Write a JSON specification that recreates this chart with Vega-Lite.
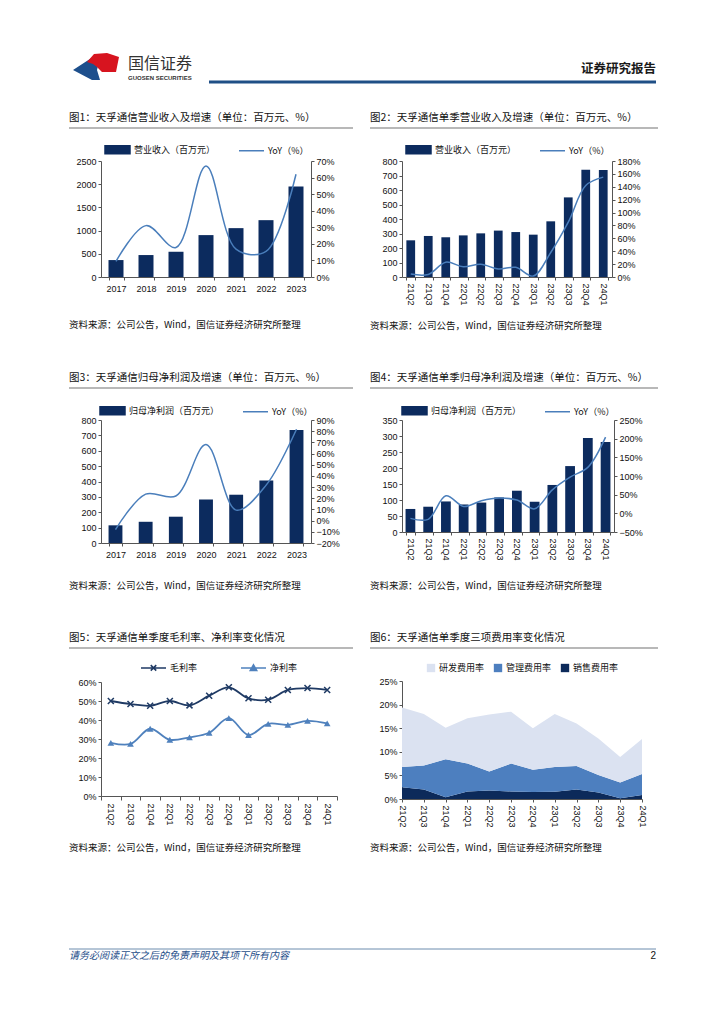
{
"$schema": "https://vega.github.io/schema/vega-lite/v6.json",
"padding": {"left": 68, "top": 52, "right": 0, "bottom": 0},
"background": "white",
"config": {
  "view": {"stroke": null},
  "font": "Noto Sans CJK SC",
  "axis": {"grid": false, "labelFont": "Liberation Sans", "labelFontSize": 9, "labelColor": "#111111", "domainColor": "#555555", "tickColor": "#555555", "tickSize": 3, "labelPadding": 2},
  "title": {"font": "Noto Sans CJK SC", "fontSize": 10.5, "fontWeight": "normal", "color": "#111111", "anchor": "start", "frame": "group", "dx": -32, "offset": 4},
  "legend": {"title": null, "orient": "top", "direction": "horizontal", "labelFont": "Noto Sans CJK SC", "labelFontSize": 9, "labelColor": "#111111", "layout": {"top": {"anchor": "middle", "direction": "horizontal"}}}
},
"datasets": {
  "rev": [{"p":"2017","v":365,"yoy":0.094},{"p":"2018","v":473,"yoy":0.31},{"p":"2019","v":544,"yoy":0.178},{"p":"2020","v":903,"yoy":0.67},{"p":"2021","v":1053,"yoy":0.168},{"p":"2022","v":1225,"yoy":0.154},{"p":"2023","v":1948,"yoy":0.62}],
  "revq": [{"p":"21Q2","v":253,"yoy":0.046},{"p":"21Q3","v":283,"yoy":0.04},{"p":"21Q4","v":274,"yoy":0.23},{"p":"22Q1","v":287,"yoy":0.16},{"p":"22Q2","v":301,"yoy":0.197},{"p":"22Q3","v":320,"yoy":0.124},{"p":"22Q4","v":310,"yoy":0.15},{"p":"23Q1","v":292,"yoy":0.015},{"p":"23Q2","v":384,"yoy":0.38},{"p":"23Q3","v":549,"yoy":0.85},{"p":"23Q4","v":740,"yoy":1.42},{"p":"24Q1","v":738,"yoy":1.55}],
  "np": [{"p":"2017","v":115,"yoy":-0.08},{"p":"2018","v":138,"yoy":0.237},{"p":"2019","v":171,"yoy":0.22},{"p":"2020","v":283,"yoy":0.68},{"p":"2021","v":314,"yoy":0.094},{"p":"2022","v":406,"yoy":0.32},{"p":"2023","v":735,"yoy":0.817}],
  "npq": [{"p":"21Q2","v":72,"yoy":-0.135},{"p":"21Q3","v":79,"yoy":-0.16},{"p":"21Q4","v":95.5,"yoy":0.47},{"p":"22Q1","v":86,"yoy":0.185},{"p":"22Q2","v":92,"yoy":0.337},{"p":"22Q3","v":108,"yoy":0.41},{"p":"22Q4","v":129,"yoy":0.355},{"p":"23Q1","v":94.5,"yoy":0.12},{"p":"23Q2","v":147,"yoy":0.63},{"p":"23Q3","v":206,"yoy":0.97},{"p":"23Q4","v":294,"yoy":1.23},{"p":"24Q1","v":281,"yoy":2.04}],
  "margin": [{"p":"21Q2","gross":0.50,"net":0.28},{"p":"21Q3","gross":0.484,"net":0.274},{"p":"21Q4","gross":0.475,"net":0.354},{"p":"22Q1","gross":0.50,"net":0.296},{"p":"22Q2","gross":0.477,"net":0.309},{"p":"22Q3","gross":0.528,"net":0.333},{"p":"22Q4","gross":0.572,"net":0.41},{"p":"23Q1","gross":0.514,"net":0.321},{"p":"23Q2","gross":0.507,"net":0.38},{"p":"23Q3","gross":0.558,"net":0.374},{"p":"23Q4","gross":0.568,"net":0.395},{"p":"24Q1","gross":0.558,"net":0.382}],
  "fee": [
    {"p":"21Q2","type":"销售费用率","v":0.025},{"p":"21Q2","type":"管理费用率","v":0.043},{"p":"21Q2","type":"研发费用率","v":0.126},
    {"p":"21Q3","type":"销售费用率","v":0.020},{"p":"21Q3","type":"管理费用率","v":0.051},{"p":"21Q3","type":"研发费用率","v":0.109},
    {"p":"21Q4","type":"销售费用率","v":0.0035},{"p":"21Q4","type":"管理费用率","v":0.0805},{"p":"21Q4","type":"研发费用率","v":0.067},
    {"p":"22Q1","type":"销售费用率","v":0.016},{"p":"22Q1","type":"管理费用率","v":0.059},{"p":"22Q1","type":"研发费用率","v":0.096},
    {"p":"22Q2","type":"销售费用率","v":0.018},{"p":"22Q2","type":"管理费用率","v":0.040},{"p":"22Q2","type":"研发费用率","v":0.121},
    {"p":"22Q3","type":"销售费用率","v":0.016},{"p":"22Q3","type":"管理费用率","v":0.059},{"p":"22Q3","type":"研发费用率","v":0.110},
    {"p":"22Q4","type":"销售费用率","v":0.015},{"p":"22Q4","type":"管理费用率","v":0.047},{"p":"22Q4","type":"研发费用率","v":0.088},
    {"p":"23Q1","type":"销售费用率","v":0.0155},{"p":"23Q1","type":"管理费用率","v":0.0525},{"p":"23Q1","type":"研发费用率","v":0.112},
    {"p":"23Q2","type":"销售费用率","v":0.020},{"p":"23Q2","type":"管理费用率","v":0.050},{"p":"23Q2","type":"研发费用率","v":0.090},
    {"p":"23Q3","type":"销售费用率","v":0.014},{"p":"23Q3","type":"管理费用率","v":0.037},{"p":"23Q3","type":"研发费用率","v":0.077},
    {"p":"23Q4","type":"销售费用率","v":0.0015},{"p":"23Q4","type":"管理费用率","v":0.0335},{"p":"23Q4","type":"研发费用率","v":0.054},
    {"p":"24Q1","type":"销售费用率","v":0.0085},{"p":"24Q1","type":"管理费用率","v":0.0445},{"p":"24Q1","type":"研发费用率","v":0.074}
  ]
},
"spacing": 95,
"resolve": {"scale": {"color": "independent"}, "legend": {"color": "independent"}},
"vconcat": [
 {"spacing": 28, "resolve": {"scale": {"color": "independent"}, "legend": {"color": "independent"}}, "vconcat": [
  {"width": 555, "height": 30,
   "layer": [
    {"data": {"values": [{}]}, "mark": {"type": "rule", "color": "#1f4f86", "strokeWidth": 3},
     "encoding": {"x": {"datum": 0.2385, "type": "quantitative", "scale": {"domain": [0, 1], "range": [-32, 555]}, "axis": null}, "x2": {"datum": 1}, "y": {"datum": 0, "type": "quantitative", "scale": {"domain": [0, 1]}, "axis": null}}},
    {"data": {"values": [{}]}, "mark": {"type": "point", "shape": "M-23,3L-3,-10L3,-5L1,3L4,13L-4,13Z", "size": 4, "filled": true, "color": "#1d4f8c", "opacity": 1, "strokeWidth": 0},
     "encoding": {"x": {"datum": 0.046, "type": "quantitative"}, "y": {"datum": 0.5, "type": "quantitative"}}},
    {"data": {"values": [{}]}, "mark": {"type": "point", "shape": "M-9,-5L-2,-13L11,-14L23,-10L20,5L6,5L1,0L-3,-3Z", "size": 4, "filled": true, "color": "#d7141f", "opacity": 1, "strokeWidth": 0},
     "encoding": {"x": {"datum": 0.046, "type": "quantitative"}, "y": {"datum": 0.5, "type": "quantitative"}}},
    {"data": {"values": [{"t": "国信证券"}]}, "mark": {"type": "text", "align": "left", "baseline": "middle", "fontSize": 16, "color": "#333333"},
     "encoding": {"x": {"datum": 0.1005, "type": "quantitative"}, "y": {"datum": 0.6, "type": "quantitative"}, "text": {"field": "t"}}},
    {"data": {"values": [{"t": "GUOSEN SECURITIES"}]}, "mark": {"type": "text", "align": "left", "baseline": "middle", "fontSize": 6, "fontWeight": "bold", "font": "Liberation Sans", "color": "#333333"},
     "encoding": {"x": {"datum": 0.1005, "type": "quantitative"}, "y": {"datum": 0.133, "type": "quantitative"}, "text": {"field": "t"}}},
    {"data": {"values": [{"t": "证券研究报告"}]}, "mark": {"type": "text", "align": "right", "baseline": "middle", "fontSize": 12.5, "fontWeight": "bold", "color": "#1a1a1a"},
     "encoding": {"x": {"datum": 1, "type": "quantitative"}, "y": {"datum": 0.433, "type": "quantitative"}, "text": {"field": "t"}}}
   ]},
  {"spacing": 41, "resolve": {"scale": {"color": "independent"}, "legend": {"color": "independent"}}, "vconcat": [
   {"spacing": 15, "resolve": {"scale": {"color": "independent"}, "legend": {"color": "independent"}}, "hconcat": [
    {"spacing": 7, "resolve": {"scale": {"color": "independent"}, "legend": {"color": "independent"}}, "vconcat": [
     {"width": 252, "height": 1, "title": {"text": "图1：天孚通信营业收入及增速（单位：百万元、%）"},
      "data": {"values": [{}]}, "mark": {"type": "rule", "color": "#a0a0a0", "strokeWidth": 1.5},
      "encoding": {"x": {"datum": 0, "type": "quantitative", "scale": {"domain": [0, 1], "range": [-32, 252]}, "axis": null}, "x2": {"datum": 1}, "y": {"datum": 0, "type": "quantitative", "scale": {"domain": [0, 1]}, "axis": null}}},
     {"width": 210, "height": 116, "data": {"name": "rev"},
      "title": {"text": "资料来源：公司公告，Wind，国信证券经济研究所整理", "orient": "bottom", "fontSize": 9.5, "offset": 27},
      "layer": [
       {"mark": {"type": "bar"},
        "encoding": {
         "x": {"field": "p", "type": "ordinal", "sort": null, "scale": {"paddingInner": 0.5, "paddingOuter": 0.25}, "axis": {"title": null, "labelAngle": 0, "tickBand": "extent", "labelPadding": 4}},
         "y": {"field": "v", "type": "quantitative", "scale": {"domain": [0, 2500], "nice": false}, "axis": {"title": null, "format": "d", "values": [0, 500, 1000, 1500, 2000, 2500]}},
         "color": {"datum": "营业收入（百万元）", "type": "nominal", "scale": {"domain": ["营业收入（百万元）", "YoY（%）"], "range": ["#0c2b5e", "#4a7ebb"]},
          "legend": {"symbolSize": 625, "columnPadding": 20, "labelOffset": 3, "offset": 4,
           "encode": {"symbols": {"update": {"shape": {"signal": "datum.value === 'YoY（%）' ? 'M-1,0H1' : 'M-1,-0.32H1V0.32H-1Z'"}, "fill": {"signal": "datum.value === 'YoY（%）' ? 'transparent' : '#0c2b5e'"}, "stroke": {"signal": "datum.value === 'YoY（%）' ? '#4a7ebb' : 'transparent'"}, "strokeWidth": {"value": 1.5}, "opacity": {"value": 1}}}}}}
        }},
       {"mark": {"type": "line", "interpolate": "catmull-rom", "strokeWidth": 1.5},
        "encoding": {
         "x": {"field": "p", "type": "ordinal", "sort": null, "bandPosition": 0.5},
         "y": {"field": "yoy", "type": "quantitative", "scale": {"domain": [0, 0.7], "nice": false}, "axis": {"title": null, "orient": "right", "format": ".0%", "values": [0, 0.1, 0.2, 0.3, 0.4, 0.5, 0.6, 0.7]}},
         "color": {"datum": "YoY（%）", "type": "nominal"}
        }}
      ],
      "resolve": {"scale": {"y": "independent"}}}
    ]},
    {"spacing": 7, "resolve": {"scale": {"color": "independent"}, "legend": {"color": "independent"}}, "vconcat": [
     {"width": 256, "height": 1, "title": {"text": "图2：天孚通信单季营业收入及增速（单位：百万元、%）"},
      "data": {"values": [{}]}, "mark": {"type": "rule", "color": "#a0a0a0", "strokeWidth": 1.5},
      "encoding": {"x": {"datum": 0, "type": "quantitative", "scale": {"domain": [0, 1], "range": [-32, 256]}, "axis": null}, "x2": {"datum": 1}, "y": {"datum": 0, "type": "quantitative", "scale": {"domain": [0, 1]}, "axis": null}}},
     {"width": 210, "height": 116, "data": {"name": "revq"},
      "title": {"text": "资料来源：公司公告，Wind，国信证券经济研究所整理", "orient": "bottom", "fontSize": 9.5, "offset": 16},
      "layer": [
       {"mark": {"type": "bar"},
        "encoding": {
         "x": {"field": "p", "type": "ordinal", "sort": null, "scale": {"paddingInner": 0.5, "paddingOuter": 0.25}, "axis": {"title": null, "labelAngle": 90, "tickBand": "extent", "labelPadding": 3}},
         "y": {"field": "v", "type": "quantitative", "scale": {"domain": [0, 800], "nice": false}, "axis": {"title": null, "format": "d", "values": [0, 100, 200, 300, 400, 500, 600, 700, 800]}},
         "color": {"datum": "营业收入（百万元）", "type": "nominal", "scale": {"domain": ["营业收入（百万元）", "YoY（%）"], "range": ["#0c2b5e", "#4a7ebb"]},
          "legend": {"symbolSize": 625, "columnPadding": 20, "labelOffset": 3, "offset": 4,
           "encode": {"symbols": {"update": {"shape": {"signal": "datum.value === 'YoY（%）' ? 'M-1,0H1' : 'M-1,-0.32H1V0.32H-1Z'"}, "fill": {"signal": "datum.value === 'YoY（%）' ? 'transparent' : '#0c2b5e'"}, "stroke": {"signal": "datum.value === 'YoY（%）' ? '#4a7ebb' : 'transparent'"}, "strokeWidth": {"value": 1.5}, "opacity": {"value": 1}}}}}}
        }},
       {"mark": {"type": "line", "interpolate": "catmull-rom", "strokeWidth": 1.5},
        "encoding": {
         "x": {"field": "p", "type": "ordinal", "sort": null, "bandPosition": 0.5},
         "y": {"field": "yoy", "type": "quantitative", "scale": {"domain": [0, 1.8], "nice": false}, "axis": {"title": null, "orient": "right", "format": ".0%", "values": [0, 0.2, 0.4, 0.6, 0.8, 1.0, 1.2, 1.4, 1.6, 1.8]}},
         "color": {"datum": "YoY（%）", "type": "nominal"}
        }}
      ],
      "resolve": {"scale": {"y": "independent"}}}
    ]}
   ]},
   {"spacing": 15, "resolve": {"scale": {"color": "independent"}, "legend": {"color": "independent"}}, "hconcat": [
    {"spacing": 8, "resolve": {"scale": {"color": "independent"}, "legend": {"color": "independent"}}, "vconcat": [
     {"width": 252, "height": 1, "title": {"text": "图3：天孚通信归母净利润及增速（单位：百万元、%）"},
      "data": {"values": [{}]}, "mark": {"type": "rule", "color": "#a0a0a0", "strokeWidth": 1.5},
      "encoding": {"x": {"datum": 0, "type": "quantitative", "scale": {"domain": [0, 1], "range": [-32, 252]}, "axis": null}, "x2": {"datum": 1}, "y": {"datum": 0, "type": "quantitative", "scale": {"domain": [0, 1]}, "axis": null}}},
     {"width": 210, "height": 123, "data": {"name": "np"},
      "title": {"text": "资料来源：公司公告，Wind，国信证券经济研究所整理", "orient": "bottom", "fontSize": 9.5, "offset": 22},
      "layer": [
       {"mark": {"type": "bar"},
        "encoding": {
         "x": {"field": "p", "type": "ordinal", "sort": null, "scale": {"paddingInner": 0.54, "paddingOuter": 0.25}, "axis": {"title": null, "labelAngle": 0, "tickBand": "extent", "labelPadding": 4}},
         "y": {"field": "v", "type": "quantitative", "scale": {"domain": [0, 800], "nice": false}, "axis": {"title": null, "format": "d", "values": [0, 100, 200, 300, 400, 500, 600, 700, 800]}},
         "color": {"datum": "归母净利润（百万元）", "type": "nominal", "scale": {"domain": ["归母净利润（百万元）", "YoY（%）"], "range": ["#0c2b5e", "#4a7ebb"]},
          "legend": {"symbolSize": 625, "columnPadding": 20, "labelOffset": 3, "offset": 2,
           "encode": {"symbols": {"update": {"shape": {"signal": "datum.value === 'YoY（%）' ? 'M-1,0H1' : 'M-1,-0.32H1V0.32H-1Z'"}, "fill": {"signal": "datum.value === 'YoY（%）' ? 'transparent' : '#0c2b5e'"}, "stroke": {"signal": "datum.value === 'YoY（%）' ? '#4a7ebb' : 'transparent'"}, "strokeWidth": {"value": 1.5}, "opacity": {"value": 1}}}}}}
        }},
       {"mark": {"type": "line", "interpolate": "catmull-rom", "strokeWidth": 1.5},
        "encoding": {
         "x": {"field": "p", "type": "ordinal", "sort": null, "bandPosition": 0.5},
         "y": {"field": "yoy", "type": "quantitative", "scale": {"domain": [-0.2, 0.9], "nice": false, "zero": false}, "axis": {"title": null, "orient": "right", "format": ".0%", "values": [-0.2, -0.1, 0, 0.1, 0.2, 0.3, 0.4, 0.5, 0.6, 0.7, 0.8, 0.9]}},
         "color": {"datum": "YoY（%）", "type": "nominal"}
        }}
      ],
      "resolve": {"scale": {"y": "independent"}}}
    ]},
    {"spacing": 8, "resolve": {"scale": {"color": "independent"}, "legend": {"color": "independent"}}, "vconcat": [
     {"width": 256, "height": 1, "title": {"text": "图4：天孚通信单季归母净利润及增速（单位：百万元、%）"},
      "data": {"values": [{}]}, "mark": {"type": "rule", "color": "#a0a0a0", "strokeWidth": 1.5},
      "encoding": {"x": {"datum": 0, "type": "quantitative", "scale": {"domain": [0, 1], "range": [-32, 256]}, "axis": null}, "x2": {"datum": 1}, "y": {"datum": 0, "type": "quantitative", "scale": {"domain": [0, 1]}, "axis": null}}},
     {"width": 212, "height": 112, "data": {"name": "npq"},
      "title": {"text": "资料来源：公司公告，Wind，国信证券经济研究所整理", "orient": "bottom", "fontSize": 9.5, "offset": 21},
      "layer": [
       {"mark": {"type": "bar"},
        "encoding": {
         "x": {"field": "p", "type": "ordinal", "sort": null, "scale": {"paddingInner": 0.45, "paddingOuter": 0.2}, "axis": {"title": null, "labelAngle": 90, "tickBand": "extent", "labelPadding": 3}},
         "y": {"field": "v", "type": "quantitative", "scale": {"domain": [0, 350], "nice": false}, "axis": {"title": null, "format": "d", "values": [0, 50, 100, 150, 200, 250, 300, 350]}},
         "color": {"datum": "归母净利润（百万元）", "type": "nominal", "scale": {"domain": ["归母净利润（百万元）", "YoY（%）"], "range": ["#0c2b5e", "#4a7ebb"]},
          "legend": {"symbolSize": 625, "columnPadding": 20, "labelOffset": 3, "offset": 2,
           "encode": {"symbols": {"update": {"shape": {"signal": "datum.value === 'YoY（%）' ? 'M-1,0H1' : 'M-1,-0.32H1V0.32H-1Z'"}, "fill": {"signal": "datum.value === 'YoY（%）' ? 'transparent' : '#0c2b5e'"}, "stroke": {"signal": "datum.value === 'YoY（%）' ? '#4a7ebb' : 'transparent'"}, "strokeWidth": {"value": 1.5}, "opacity": {"value": 1}}}}}}
        }},
       {"mark": {"type": "line", "interpolate": "catmull-rom", "strokeWidth": 1.5},
        "encoding": {
         "x": {"field": "p", "type": "ordinal", "sort": null, "bandPosition": 0.5},
         "y": {"field": "yoy", "type": "quantitative", "scale": {"domain": [-0.5, 2.5], "nice": false, "zero": false}, "axis": {"title": null, "orient": "right", "format": ".0%", "values": [-0.5, 0, 0.5, 1.0, 1.5, 2.0, 2.5]}},
         "color": {"datum": "YoY（%）", "type": "nominal"}
        }}
      ],
      "resolve": {"scale": {"y": "independent"}}}
    ]}
   ]},
   {"spacing": 15, "resolve": {"scale": {"color": "independent"}, "legend": {"color": "independent"}}, "hconcat": [
    {"spacing": 5, "resolve": {"scale": {"color": "independent"}, "legend": {"color": "independent"}}, "vconcat": [
     {"width": 252, "height": 1, "title": {"text": "图5：天孚通信单季度毛利率、净利率变化情况"},
      "data": {"values": [{}]}, "mark": {"type": "rule", "color": "#a0a0a0", "strokeWidth": 1.5},
      "encoding": {"x": {"datum": 0, "type": "quantitative", "scale": {"domain": [0, 1], "range": [-32, 252]}, "axis": null}, "x2": {"datum": 1}, "y": {"datum": 0, "type": "quantitative", "scale": {"domain": [0, 1]}, "axis": null}}},
     {"width": 236, "height": 114, "data": {"name": "margin"},
      "title": {"text": "资料来源：公司公告，Wind，国信证券经济研究所整理", "orient": "bottom", "fontSize": 9.5, "offset": 18},
      "encoding": {"x": {"field": "p", "type": "ordinal", "sort": null, "bandPosition": 0.5, "scale": {"type": "band", "paddingInner": 0, "paddingOuter": 0}, "axis": {"title": null, "labelAngle": 90, "tickBand": "extent", "tickSize": 4, "labelPadding": 3}}},
      "layer": [
       {"mark": {"type": "line", "interpolate": "catmull-rom", "strokeWidth": 1.8},
        "encoding": {
         "y": {"field": "gross", "type": "quantitative", "scale": {"domain": [0, 0.6], "nice": false}, "axis": {"title": null, "format": ".0%", "values": [0, 0.1, 0.2, 0.3, 0.4, 0.5, 0.6]}},
         "color": {"datum": "毛利率", "type": "nominal", "scale": {"domain": ["毛利率", "净利率"], "range": ["#1f3a64", "#4f81bd"]},
          "legend": {"symbolSize": 625, "columnPadding": 40, "labelOffset": 3, "offset": 8,
           "encode": {"symbols": {"update": {"shape": {"signal": "datum.value === '毛利率' ? 'M-1,0H1M-0.22,-0.22L0.22,0.22M-0.22,0.22L0.22,-0.22' : 'M-1,0H1M0,-0.26L0.26,0.2H-0.26Z'"}, "fill": {"signal": "datum.value === '毛利率' ? 'transparent' : '#4f81bd'"}, "stroke": {"signal": "datum.value === '毛利率' ? '#1f3a64' : '#4f81bd'"}, "strokeWidth": {"value": 1.5}, "opacity": {"value": 1}}}}}}
        }},
       {"mark": {"type": "point", "shape": "M-1,-1L1,1M-1,1L1,-1", "filled": false, "size": 36, "strokeWidth": 1.5, "color": "#1f3a64", "opacity": 1},
        "encoding": {"y": {"field": "gross", "type": "quantitative", "scale": {"domain": [0, 0.6], "nice": false}, "axis": {"title": null, "format": ".0%", "values": [0, 0.1, 0.2, 0.3, 0.4, 0.5, 0.6]}}}},
       {"mark": {"type": "line", "interpolate": "catmull-rom", "strokeWidth": 1.8},
        "encoding": {
         "y": {"field": "net", "type": "quantitative", "scale": {"domain": [0, 0.6], "nice": false}, "axis": {"title": null, "format": ".0%", "values": [0, 0.1, 0.2, 0.3, 0.4, 0.5, 0.6]}},
         "color": {"datum": "净利率", "type": "nominal"}
        }},
       {"mark": {"type": "point", "shape": "triangle-up", "filled": true, "size": 45, "color": "#4f81bd", "opacity": 1},
        "encoding": {"y": {"field": "net", "type": "quantitative", "scale": {"domain": [0, 0.6], "nice": false}, "axis": {"title": null, "format": ".0%", "values": [0, 0.1, 0.2, 0.3, 0.4, 0.5, 0.6]}}}}
      ]}
    ]},
    {"spacing": 14, "resolve": {"scale": {"color": "independent"}, "legend": {"color": "independent"}}, "vconcat": [
     {"width": 256, "height": 1, "title": {"text": "图6：天孚通信单季度三项费用率变化情况"},
      "data": {"values": [{}]}, "mark": {"type": "rule", "color": "#a0a0a0", "strokeWidth": 1.5},
      "encoding": {"x": {"datum": 0, "type": "quantitative", "scale": {"domain": [0, 1], "range": [-32, 256]}, "axis": null}, "x2": {"datum": 1}, "y": {"datum": 0, "type": "quantitative", "scale": {"domain": [0, 1]}, "axis": null}}},
     {"width": 240, "height": 118, "data": {"name": "fee"},
      "title": {"text": "资料来源：公司公告，Wind，国信证券经济研究所整理", "orient": "bottom", "fontSize": 9.5, "offset": 16},
      "mark": {"type": "area", "opacity": 1},
      "encoding": {
       "x": {"field": "p", "type": "ordinal", "sort": null, "scale": {"type": "point", "padding": 0}, "axis": {"title": null, "labelAngle": 90, "labelPadding": 3}},
       "y": {"field": "v", "type": "quantitative", "stack": "zero", "scale": {"domain": [0, 0.25], "nice": false}, "axis": {"title": null, "format": ".0%", "values": [0, 0.05, 0.1, 0.15, 0.2, 0.25]}},
       "color": {"field": "type", "type": "nominal", "scale": {"domain": ["研发费用率", "管理费用率", "销售费用率"], "range": ["#dbe2f1", "#4d7fbf", "#0c2a5a"]},
        "legend": {"symbolType": "square", "symbolSize": 70, "columnPadding": 8, "labelOffset": 3, "offset": 8}},
       "order": {"field": "type", "sort": "descending"}
      }}
    ]}
   ]}
  ]}
 ]},
 {"width": 555, "height": 14,
  "layer": [
   {"data": {"values": [{}]}, "mark": {"type": "rule", "color": "#6d8cae", "strokeWidth": 1},
    "encoding": {"x": {"datum": 0, "type": "quantitative", "scale": {"domain": [0, 1], "range": [-32, 555]}, "axis": null}, "x2": {"datum": 1}, "y": {"datum": 1, "type": "quantitative", "scale": {"domain": [0, 1]}, "axis": null}}},
   {"data": {"values": [{"t": "请务必阅读正文之后的免责声明及其项下所有内容"}]}, "mark": {"type": "text", "align": "left", "baseline": "middle", "fontSize": 10, "fontStyle": "italic", "color": "#1f4e8a"},
    "encoding": {"x": {"datum": 0, "type": "quantitative"}, "y": {"datum": 0.5, "type": "quantitative"}, "text": {"field": "t"}}},
   {"data": {"values": [{"t": "2"}]}, "mark": {"type": "text", "align": "right", "baseline": "middle", "fontSize": 10, "font": "Liberation Sans", "color": "#111111"},
    "encoding": {"x": {"datum": 1, "type": "quantitative"}, "y": {"datum": 0.5, "type": "quantitative"}, "text": {"field": "t"}}}
  ]}
]
}
